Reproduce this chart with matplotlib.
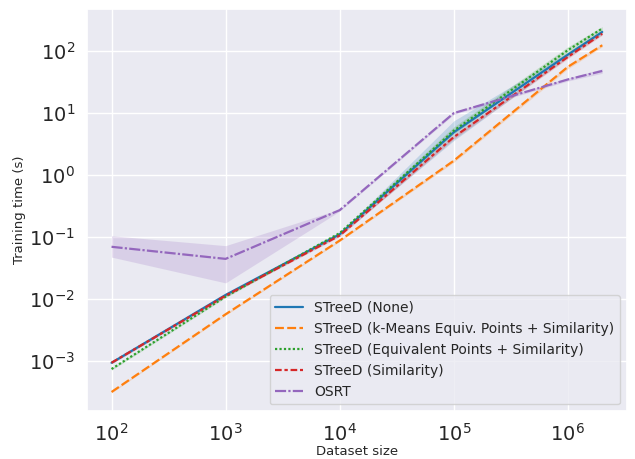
import numpy as np
import matplotlib
matplotlib.use("Agg")
import matplotlib.pyplot as plt
import seaborn as sns

sizes = [100, 1000, 10000, 100000, 1000000, 2000000]

labels = [
    "STreeD (None)",
    "STreeD (k-Means Equiv. Points + Similarity)",
    "STreeD (Equivalent Points + Similarity)",
    "STreeD (Similarity)",
    "OSRT",
]

none_mean = [9.2e-4, 0.0115, 0.11, 4.9, 88, 205]
none_lo = [8.8e-4, 0.011, 0.105, 3.6, 80, 190]
none_hi = [9.6e-4, 0.012, 0.115, 7.5, 96, 220]

kmeans_mean = [3.1e-4, 0.0056, 0.087, 1.7, 56, 125]
kmeans_lo = [3.0e-4, 0.0054, 0.084, 1.6, 52, 118]
kmeans_hi = [3.2e-4, 0.0058, 0.090, 1.8, 60, 132]

equiv_mean = [7.3e-4, 0.0108, 0.115, 5.2, 104, 233]
equiv_lo = [7.0e-4, 0.0104, 0.110, 4.6, 92, 215]
equiv_hi = [7.6e-4, 0.0112, 0.120, 6.0, 118, 250]

sim_mean = [9.2e-4, 0.0112, 0.105, 4.1, 81, 192]
sim_lo = [8.9e-4, 0.0108, 0.101, 3.8, 76, 182]
sim_hi = [9.5e-4, 0.0116, 0.109, 4.4, 86, 202]

osrt_mean = [0.069, 0.044, 0.27, 10, 35, 48]
osrt_lo = [0.047, 0.018, 0.26, 9.5, 33, 44]
osrt_hi = [0.104, 0.072, 0.28, 10.5, 37, 52]

means = [none_mean, kmeans_mean, equiv_mean, sim_mean, osrt_mean]
lows = [none_lo, kmeans_lo, equiv_lo, sim_lo, osrt_lo]
highs = [none_hi, kmeans_hi, equiv_hi, sim_hi, osrt_hi]

sns.set_theme(style="darkgrid")
colors = sns.color_palette("tab10")
dashes = [(None, None), (4, 1.5), (1, 1), (3, 1.25, 1.5, 1.25), (5, 1, 1, 1)]

fig = plt.figure(figsize=(6.35, 4.59), dpi=100)
ax = fig.add_axes([0.137, 0.104, 0.85, 0.876])

for i, label in enumerate(labels):
    line, = ax.plot(sizes, means[i], color=colors[i], lw=1.6, label=label)
    if dashes[i][0] is not None:
        line.set_dashes(dashes[i])
    ax.fill_between(sizes, lows[i], highs[i], color=colors[i], alpha=0.2, lw=0)

ax.set_xscale("log")
ax.set_yscale("log")
ax.set_xlim(10 ** 1.785, 10 ** 6.516)
ax.set_ylim(10 ** -3.82, 10 ** 2.68)
ax.tick_params(axis="both", labelsize=14, pad=2.5)
ax.set_xlabel("Dataset size", fontsize=9.5, labelpad=0)
ax.set_ylabel("Training time (s)", fontsize=9.5, labelpad=2)
ax.legend(loc="lower right", fontsize=10)

fig.savefig("out.png", dpi=100)
